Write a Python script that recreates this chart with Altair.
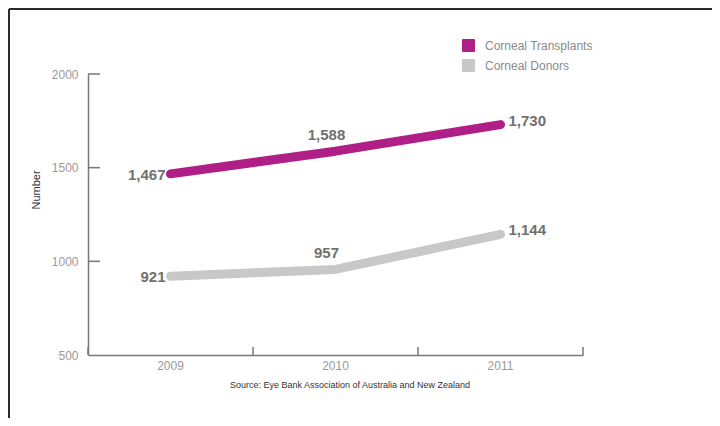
import altair as alt
import pandas as pd

years = ["2009", "2010", "2011"]
transplants = [1467, 1588, 1730]
donors = [921, 957, 1144]
series_names = ["Corneal Transplants", "Corneal Donors"]
series_colors = ["#B01E88", "#C8C8C9"]
y_ticks = [500, 1000, 1500, 2000]
y_title = "Number"
source_text = "Source: Eye Bank Association of Australia and New Zealand"

df = pd.DataFrame({
    "year": years * 2,
    "value": transplants + donors,
    "series": [series_names[0]] * 3 + [series_names[1]] * 3,
})
df["label"] = df["value"].map(lambda v: f"{v:,}")

W, H = 495, 281
FONT = "Liberation Sans"

xscale = alt.Scale(type="band", domain=years, paddingInner=0, paddingOuter=0)
yscale = alt.Scale(domain=[500, 2000], nice=False, zero=False)

x_axis = alt.Axis(title=None, ticks=False, labelPadding=5, labelFontSize=12,
                  labelColor="#9a9a9a", labelFont=FONT, domainColor="#777777",
                  domainWidth=1.5, labelAngle=0, grid=False)
y_axis = alt.Axis(title=None, ticks=False, values=y_ticks, format="d", labelPadding=10,
                  labelFontSize=12, labelColor="#9a9a9a", labelFont=FONT,
                  domainColor="#777777", domainWidth=1.5, grid=False)


def X(bp=0.5):
    return alt.X("year:O", scale=xscale, bandPosition=bp, axis=x_axis)


Y = alt.Y("value:Q", scale=yscale, axis=y_axis)

color_scale = alt.Scale(domain=series_names, range=series_colors)
legend = alt.Legend(title=None, orient="none", legendX=374, legendY=-35,
                    symbolType="square", symbolSize=144, symbolStrokeColor="#333333",
                    symbolStrokeWidth=1, labelFont=FONT, labelFontSize=12,
                    labelColor="#8a8a8a", labelOffset=10, rowPadding=3, padding=0)
COLOR = alt.Color("series:N", scale=color_scale, legend=legend, sort=series_names)

one = pd.DataFrame({"a": [0]})
ticks_df = pd.DataFrame({"value": y_ticks[1:]})
years_df = pd.DataFrame({"year": years})

frame_top = alt.Chart(one).mark_rule(color="#2b2b2b", strokeWidth=2).encode(
    x=alt.value(-79), x2=alt.value(624), y=alt.value(-65))
frame_left = alt.Chart(one).mark_rule(color="#2b2b2b", strokeWidth=2).encode(
    x=alt.value(-79), y=alt.value(-65), y2=alt.value(344))

yticks = alt.Chart(ticks_df).mark_rule(color="#777777", strokeWidth=1.5).encode(
    y=Y, x=alt.value(0), x2=alt.value(12))

xticks = alt.Chart(years_df).mark_rule(color="#777777", strokeWidth=1.5).encode(
    x=X(0), y=alt.value(H), y2=alt.value(H - 8))
xticks_end = alt.Chart(years_df).transform_filter(
    alt.datum.year == years[-1]).mark_rule(color="#777777", strokeWidth=1.5).encode(
    x=X(1), y=alt.value(H), y2=alt.value(H - 8))

pts = alt.Chart(df).mark_point(shape="square", filled=True, size=30, opacity=1).encode(
    x=X(), y=Y, color=COLOR,
)

lines = alt.Chart(df).mark_line(strokeWidth=9, strokeCap="round", strokeJoin="round").encode(
    x=X(), y=Y, color=COLOR, detail="series:N",
)

lab_style = dict(font=FONT, fontSize=15, fontWeight="bold", color="#707070")
lab_first = alt.Chart(df).transform_filter(alt.datum.year == years[0]).mark_text(
    align="right", baseline="middle", dx=-5, dy=1, **lab_style).encode(x=X(), y=Y, text="label:N")
lab_mid = alt.Chart(df).transform_filter(alt.datum.year == years[1]).mark_text(
    align="center", baseline="middle", dx=-9, dy=-16, **lab_style).encode(x=X(), y=Y, text="label:N")
lab_last = alt.Chart(df).transform_filter(alt.datum.year == years[2]).mark_text(
    align="left", baseline="middle", dx=8, dy=-4, **lab_style).encode(x=X(), y=Y, text="label:N")

ytitle = alt.Chart(pd.DataFrame({"t": [y_title]})).mark_text(
    angle=270, align="center", baseline="middle", font=FONT, fontSize=11, color="#333333").encode(
    x=alt.value(-51), y=alt.value(116), text="t:N")
source = alt.Chart(pd.DataFrame({"t": [source_text]})).mark_text(
    align="center", baseline="middle", font=FONT, fontSize=9, color="#333333").encode(
    x=alt.value(262), y=alt.value(311), text="t:N")

chart = alt.layer(
    frame_top, frame_left, yticks, xticks, xticks_end, pts, lines,
    lab_first, lab_mid, lab_last, ytitle, source,
).properties(
    width=W, height=H,
    padding={"left": 80, "top": 66, "right": 129, "bottom": 63},
    autosize=alt.AutoSizeParams(type="none"),
).configure_view(stroke=None)

chart.save("out.html", embed_options={"renderer": "svg", "actions": False})
